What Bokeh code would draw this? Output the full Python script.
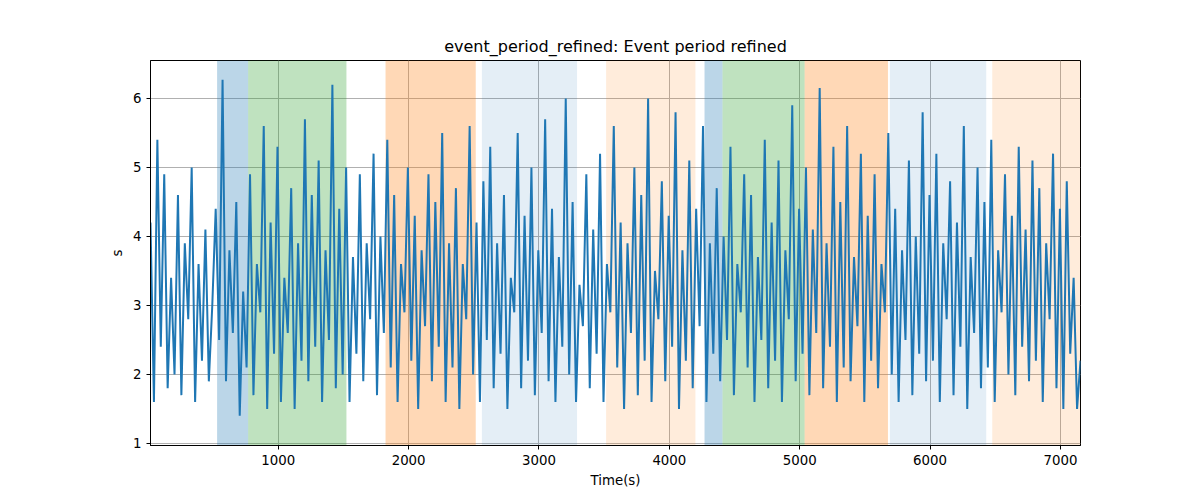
from bokeh.plotting import figure
from bokeh.models import BoxAnnotation, SingleIntervalTicker
from bokeh.embed import file_html
from bokeh.resources import INLINE
import numpy as np

# event period samples (s)
period = [
    4.2, 1.6, 5.4, 2.4, 4.9, 1.8, 3.4, 2.0, 4.6, 1.7, 3.9, 2.8, 5.0, 1.6, 3.6, 2.2,
    4.1, 1.9, 3.0, 4.4, 2.5, 6.27, 1.9, 3.8, 2.6, 4.5, 1.4, 3.2, 2.1, 4.9, 1.7, 3.6,
    2.9, 5.6, 1.5, 4.2, 2.3, 5.3, 1.6, 3.4, 2.6, 4.7, 1.5, 3.9, 2.2, 5.7, 1.9, 4.6,
    2.4, 5.1, 1.6, 3.8, 2.5, 6.2, 1.8, 4.4, 2.0, 5.0, 1.6, 3.7, 2.3, 4.9, 1.9, 3.9,
    2.8, 5.2, 1.7, 4.0, 2.6, 5.4, 2.1, 4.6, 1.6, 3.6, 2.9, 5.0, 2.2, 4.3, 1.5, 3.8,
    2.7, 4.9, 1.9, 4.5, 2.4, 5.5, 1.6, 3.9, 2.1, 4.7, 1.5, 3.6, 2.8, 5.6, 2.0, 4.2,
    1.6, 4.8, 2.5, 5.3, 1.8, 3.9, 2.3, 4.6, 1.5, 3.4, 2.9, 5.5, 1.8, 4.3, 2.2, 5.0,
    1.7, 3.8, 2.6, 5.7, 1.9, 4.4, 1.6, 3.7, 2.4, 6.0, 2.0, 4.5, 1.6, 3.3, 2.7, 4.9,
    1.8, 4.1, 2.3, 5.2, 1.6, 3.6, 2.9, 5.6, 2.1, 4.2, 1.5, 3.9, 2.6, 5.0, 1.7, 4.6,
    2.2, 6.0, 1.6, 3.5, 2.8, 4.8, 1.9, 4.3, 2.4, 5.8, 1.5, 3.8, 2.2, 5.1, 1.8, 4.4,
    2.7, 5.6, 1.6, 3.9, 2.3, 4.7, 1.9, 4.0, 2.5, 5.3, 1.7, 3.6, 2.9, 4.9, 2.1, 4.6,
    1.6, 3.7, 2.5, 5.4, 1.8, 4.2, 2.2, 5.1, 1.6, 3.8, 2.8, 5.9, 1.9, 4.4, 2.3, 5.0,
    1.7, 4.1, 2.6, 6.15, 1.8, 3.9, 2.4, 5.3, 1.6, 4.5, 2.1, 5.6, 1.9, 3.7, 2.7, 5.2,
    1.6, 4.3, 2.2, 4.9, 1.8, 3.6, 2.9, 5.5, 2.0, 4.4, 1.6, 3.8, 2.5, 5.1, 1.7, 4.0,
    2.3, 5.8, 1.9, 4.6, 2.2, 5.2, 1.6, 3.9, 2.8, 4.8, 1.7, 4.2, 2.4, 5.6, 1.5, 3.7,
    2.6, 5.0, 1.8, 4.5, 2.1, 5.4, 1.6, 3.8, 2.9, 4.9, 2.0, 4.3, 1.7, 5.3, 2.4, 4.1,
    1.9, 5.1, 2.2, 4.7, 1.6, 3.9, 2.8, 5.2, 1.8, 4.4, 1.5, 4.8, 2.3, 3.4, 1.5, 2.2,
]
time_start = 20
time_max = 7154

# highlighted intervals: (start, end, colour, alpha)
bands = [
    (531, 769, "#1f77b4", 0.3),
    (769, 1523, "#2ca02c", 0.3),
    (1823, 2515, "#ff7f0e", 0.3),
    (2562, 3292, "#1f77b4", 0.12),
    (3515, 4200, "#ff7f0e", 0.15),
    (4270, 4408, "#1f77b4", 0.3),
    (4408, 5038, "#2ca02c", 0.3),
    (5038, 5677, "#ff7f0e", 0.3),
    (5692, 6431, "#1f77b4", 0.12),
    (6477, 7154, "#ff7f0e", 0.15),
]

t = np.linspace(time_start, time_max, len(period))

p = figure(width=1200, height=500, output_backend="svg", toolbar_location=None,
           x_range=(time_start, time_max), y_range=(0.97, 6.55),
           min_border_left=150, min_border_right=120, min_border_top=60, min_border_bottom=55,
           title="event_period_refined: Event period refined")
p.title.align = "center"
p.title.text_font_size = "12pt"
p.title.text_font_style = "normal"
p.title.text_font = "DejaVu Sans"
p.title.text_color = "black"

for s, e, c, a in bands:
    p.add_layout(BoxAnnotation(left=s, right=e, fill_color=c, fill_alpha=a, line_alpha=0, level="underlay"))

p.line(t, period, line_color="#1f77b4", line_width=2)

p.xaxis.axis_label = "Time(s)"
p.yaxis.axis_label = "s"
p.xaxis.ticker = SingleIntervalTicker(interval=1000)
p.yaxis.ticker = SingleIntervalTicker(interval=1)
for ax in (p.xaxis[0], p.yaxis[0]):
    ax.axis_label_text_font_style = "normal"
    ax.axis_label_text_font = "DejaVu Sans"
    ax.axis_label_text_font_size = "10pt"
    ax.axis_label_text_color = "black"
    ax.major_label_text_font = "DejaVu Sans"
    ax.major_label_text_font_size = "10pt"
    ax.major_label_text_color = "black"
    ax.minor_tick_line_color = None
    ax.major_tick_in = 0
    ax.major_tick_out = 4
p.grid.grid_line_color = "#b0b0b0"
p.grid.grid_line_alpha = 1
p.outline_line_color = "black"

open("out.html", "w").write(file_html(p, INLINE))
